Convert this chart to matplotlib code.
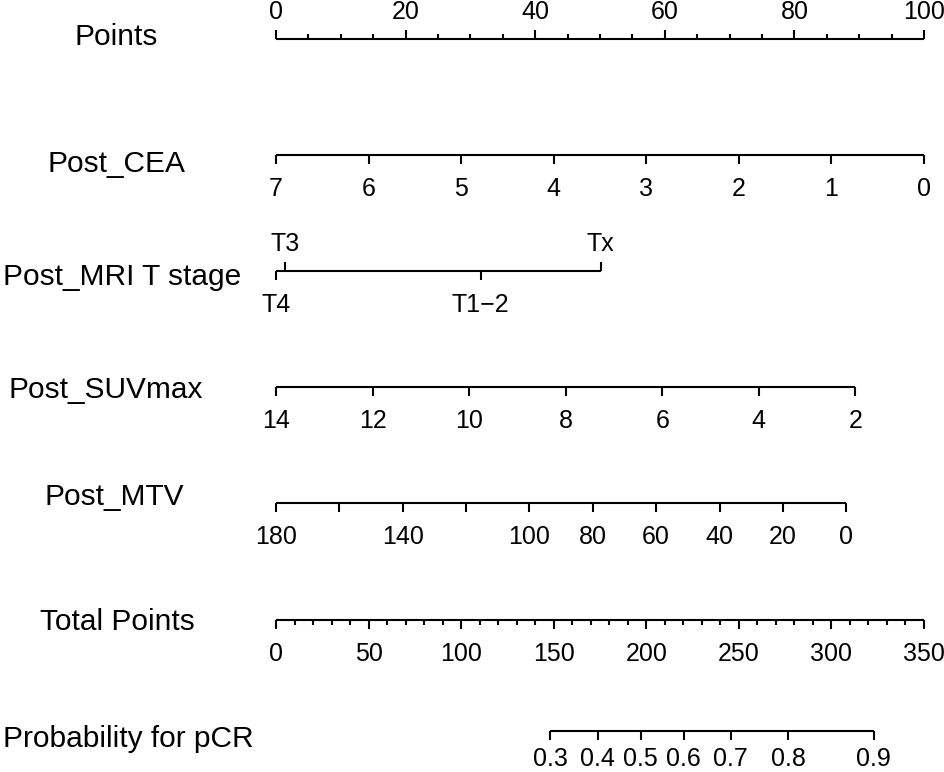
import matplotlib
matplotlib.use('Agg')
import matplotlib.pyplot as plt
import matplotlib.transforms as mtransforms
import numpy as np

# ---------------------------------------------------------------
# Values
# ---------------------------------------------------------------
points_major = [0, 20, 40, 60, 80, 100]
points_minor = [5, 10, 15, 25, 30, 35, 45, 50, 55, 65, 70, 75, 85, 90, 95]

cea_values = [7, 6, 5, 4, 3, 2, 1, 0]
cea_max_points = 100.0          # points given at Post_CEA = 0

t_stage_labels = ['T4', 'T3', 'T1\u22122', 'Tx']
t_stage_points = [0.0, 1.4, 31.6, 50.1]
t_stage_above = [False, True, False, True]

suv_values = [14, 12, 10, 8, 6, 4, 2]
suv_max_points = 89.4           # points given at Post_SUVmax = 2

mtv_values = [180, 160, 140, 120, 100, 80, 60, 40, 20, 0]
mtv_labels = ['180', '', '140', '', '100', '80', '60', '40', '20', '0']
mtv_max_points = 88.0           # points given at Post_MTV = 0

total_major = [0, 50, 100, 150, 200, 250, 300, 350]
total_minor = [10, 20, 30, 40, 60, 70, 80, 90, 110, 120, 130, 140,
               160, 170, 180, 190, 210, 220, 230, 240, 260, 270, 280, 290,
               310, 320, 330, 340]
total_max = 350.0

prob_values = [0.3, 0.4, 0.5, 0.6, 0.7, 0.8, 0.9]
prob_total_points = [148.2, 173.7, 196.9, 220.3, 245.5, 276.6, 322.8]

row_names = ['Points', 'Post_CEA', 'Post_MRI T stage', 'Post_SUVmax',
             'Post_MTV', 'Total Points', 'Probability for pCR']

# ---------------------------------------------------------------
# Layout (pixels of the 945x772 canvas)
# ---------------------------------------------------------------
W, H = 945, 772
X0_PX, X100_PX = 276, 924                       # Points 0 / 100
row_y = [39, 155, 271, 387, 503, 620, 731]      # axis line y
name_x = [116, 116, 122, 106, 114, 117, 128]    # row label centre x
name_base = [45, 172, 285, 398, 505, 630, 747]  # row label baseline y
TICK = 9
MINOR = 5
GAP_BELOW = 41
GAP_ABOVE = 20
PROB_GAP = 35                                   # last row sits at the edge

plt.rcParams['font.family'] = ['Liberation Sans', 'DejaVu Sans']
NAME_FS = 21.5
TICK_FS = 18


def lin(vals, v0, v1, p1):
    """map v0 -> 0 points, v1 -> p1 points"""
    vals = np.asarray(vals, dtype=float)
    return (vals - v0) / (v1 - v0) * p1


def scale_row(ax, pos, y, labels, up=False, tick=TICK, gap=GAP_BELOW):
    pos = np.asarray(pos, dtype=float)
    ax.hlines(y, pos.min(), pos.max(), color='black', lw=1.5)
    if up:
        ax.vlines(pos, y - tick, y, color='black', lw=1.5)
    else:
        ax.vlines(pos, y, y + tick, color='black', lw=1.5)
    for p, lab in zip(pos, labels):
        if not lab:
            continue
        yy = y - GAP_ABOVE if up else y + gap
        ax.text(p, yy, lab, ha='center', va='baseline', fontsize=TICK_FS)


fig = plt.figure(figsize=(W / 100, H / 100), dpi=100)
ax = fig.add_axes([0, 0, 1, 1])
ppx = 100.0 / (X100_PX - X0_PX)
ax.set_xlim(-X0_PX * ppx, (W - X0_PX) * ppx)
ax.set_ylim(H, 0)
ax.axis('off')

# Points
y = row_y[0]
ax.hlines(y, min(points_major), max(points_major), color='black', lw=1.5)
ax.vlines(points_major, y - TICK, y, color='black', lw=1.5)
ax.vlines(points_minor, y - MINOR, y, color='black', lw=1.5)
for p in points_major:
    ax.text(p, y - GAP_ABOVE, str(p), ha='center', va='baseline', fontsize=TICK_FS)

# Post_CEA
scale_row(ax, lin(cea_values, 7, 0, cea_max_points), row_y[1],
          [str(v) for v in cea_values])

# Post_MRI T stage (labels split above / below)
y = row_y[2]
tp = np.asarray(t_stage_points)
ax.hlines(y, tp.min(), tp.max(), color='black', lw=1.5)
for p, lab, up in zip(tp, t_stage_labels, t_stage_above):
    if up:
        ax.vlines(p, y - TICK, y, color='black', lw=1.5)
        ax.text(p, y - GAP_ABOVE, lab, ha='center', va='baseline', fontsize=TICK_FS)
    else:
        ax.vlines(p, y, y + TICK, color='black', lw=1.5)
        ax.text(p, y + GAP_BELOW, lab, ha='center', va='baseline', fontsize=TICK_FS)

# Post_SUVmax
scale_row(ax, lin(suv_values, 14, 2, suv_max_points), row_y[3],
          [str(v) for v in suv_values])

# Post_MTV
scale_row(ax, lin(mtv_values, 180, 0, mtv_max_points), row_y[4], mtv_labels)

# Total Points
y = row_y[5]
scale_row(ax, np.asarray(total_major) / total_max * 100, y,
          [str(v) for v in total_major])
ax.vlines(np.asarray(total_minor) / total_max * 100, y, y + MINOR,
          color='black', lw=1.5)

# Probability
scale_row(ax, np.asarray(prob_total_points) / total_max * 100, row_y[6],
          [f'{v:.1f}' for v in prob_values], gap=PROB_GAP)

# Row names
tr = mtransforms.blended_transform_factory(ax.transAxes, ax.transData)
for name, nx, nb in zip(row_names, name_x, name_base):
    ax.text(nx / W, nb, name, transform=tr, ha='center', va='baseline',
            fontsize=NAME_FS)

fig.savefig('out.png', dpi=100)
plt.close(fig)
